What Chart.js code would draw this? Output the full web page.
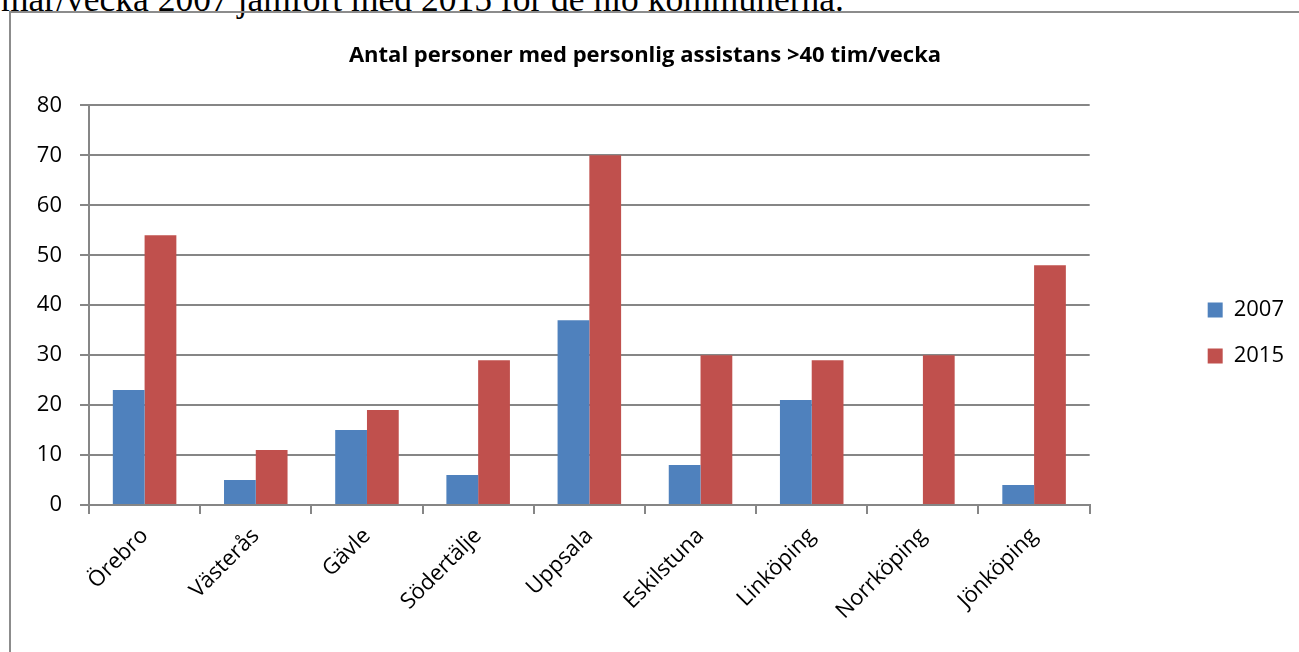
<!DOCTYPE html>
<html>
<head>
<meta charset="utf-8">
<script src="https://cdn.jsdelivr.net/npm/chart.js@4.4.1/dist/chart.umd.min.js"></script>
<style>
  html, body { margin: 0; padding: 0; background: #fff; overflow: hidden; }
  #intro {
    position: absolute; left: 1px; top: -18px;
    font: 35.5px/35.5px "Liberation Serif", serif; color: #000; white-space: nowrap;
  }
  #box {
    position: absolute; left: 9px; top: 11px;
    width: 1300px; height: 660px;
    border: 2px solid #8c8c8c; border-right: none; border-bottom: none;
  }
  #chartWrap { position: absolute; left: 0; top: 0; width: 1288px; height: 640px; }
</style>
</head>
<body>
<div id="intro">mar/vecka 2007 jämfört med 2015 för de nio kommunerna.</div>
<div id="box">
  <div id="chartWrap"><canvas id="myChart"></canvas></div>
</div>
<script>
const ctx = document.getElementById('myChart');

const cities = ['Örebro', 'Västerås', 'Gävle', 'Södertälje', 'Uppsala', 'Eskilstuna', 'Linköping', 'Norrköping', 'Jönköping'];
const values2007 = [23, 5, 15, 6, 37, 8, 21, 0, 4];
const values2015 = [54, 11, 19, 29, 70, 30, 29, 30, 48];
const yTicks = [0, 10, 20, 30, 40, 50, 60, 70, 80];

const gridGray = '#868686';
const font = 'Open Sans';

// move legend and title a bit, like the excel layout
const blockShift = {
    id: 'blockShift',
    afterLayout(chart) {
        const lg = chart.legend;
        const dx = chart.chartArea.right + 94 - lg.left;
        lg.left += dx;
        lg.right += dx;
        const tb = chart.titleBlock;
        const tx = 634 - (tb.left + tb.right) / 2;
        tb.left += tx;
        tb.right += tx;
        tb.top += 2;
        tb.bottom += 2;
    }
};

const data = {
    labels: cities,
    datasets: [{
        label: '2007',
        data: values2007,
        backgroundColor: '#4F81BD',
        borderWidth: 0
    }, {
        label: '2015',
        data: values2015,
        backgroundColor: '#C0504D',
        borderWidth: 0
    }]
};

const config = {
    type: 'bar',
    data: data,
    options: {
        responsive: true,
        maintainAspectRatio: false,
        animation: false,
        categoryPercentage: 2 / 3.5,
        barPercentage: 1,
        layout: { padding: { left: 0, right: 99, top: 0, bottom: 0 } },
        plugins: {
            title: {
                display: true,
                text: 'Antal personer med personlig assistans >40 tim/vecka',
                color: '#000',
                font: { family: font, size: 22, weight: 'bold' },
                padding: { top: 28, bottom: 38 }
            },
            legend: {
                position: 'right',
                labels: {
                    color: '#000',
                    font: { family: font, size: 22 },
                    boxWidth: 15,
                    boxHeight: 15,
                    padding: 24
                }
            },
            tooltip: { enabled: false }
        },
        scales: {
            x: {
                offset: true,
                grid: {
                    offset: true,
                    drawOnChartArea: false,
                    drawTicks: true,
                    tickLength: 9,
                    color: gridGray,
                    lineWidth: 2
                },
                border: { display: true, color: gridGray, width: 2 },
                ticks: {
                    color: '#000',
                    font: { family: font, size: 22 },
                    minRotation: 45,
                    maxRotation: 45,
                    padding: 9
                },
                afterFit(scale) { scale.height = 148; }
            },
            y: {
                min: 0,
                max: 80,
                afterBuildTicks(scale) { scale.ticks = yTicks.map(v => ({ value: v })); },
                grid: {
                    color: gridGray,
                    lineWidth: 2,
                    tickLength: 9
                },
                border: { display: true, color: gridGray, width: 2 },
                ticks: {
                    color: '#000',
                    font: { family: font, size: 22 },
                    padding: 18
                },
                afterFit(scale) { scale.width = 78; }
            }
        }
    },
    plugins: [blockShift]
};

const chart = new Chart(ctx, config);
</script>
</body>
</html>
